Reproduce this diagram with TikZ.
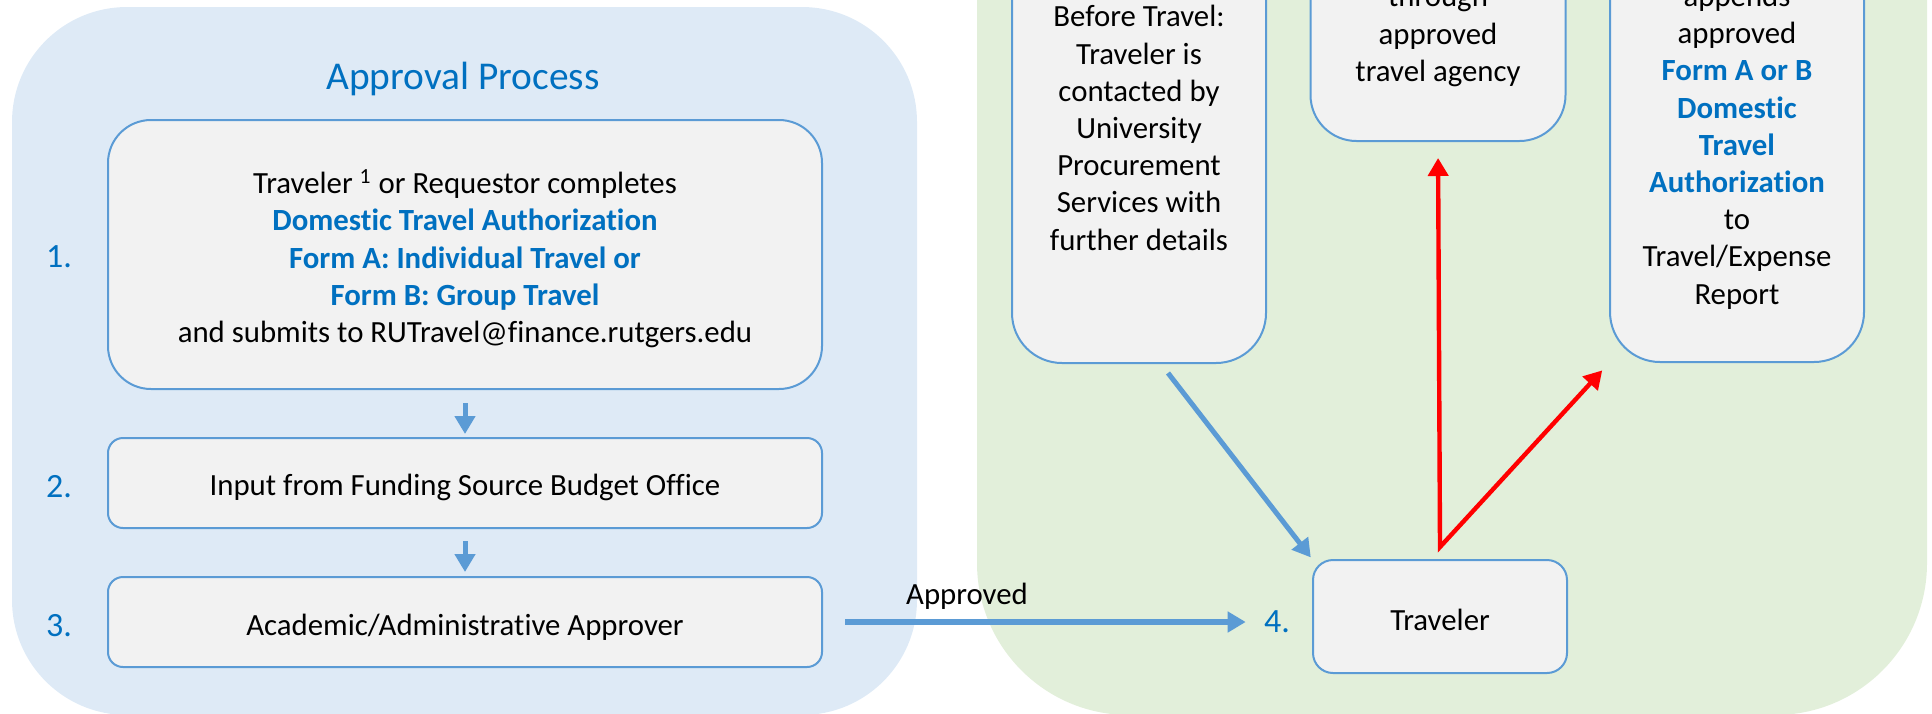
\documentclass[tikz,border=0pt]{standalone}
\usepackage{fontspec}
\setmainfont{Carlito}[Ligatures=NoCommon]
\usetikzlibrary{arrows.meta,calc}
\definecolor{panelblue}{HTML}{DEEAF6}
\definecolor{panelgreen}{HTML}{E2EFDA}
\definecolor{boxfill}{HTML}{F2F2F2}
\definecolor{boxline}{HTML}{5B9BD5}
\definecolor{textblue}{HTML}{0070C0}
\definecolor{arrowred}{HTML}{FF0000}
\tikzset{
  flowbox/.style={draw=boxline, line width=1pt, fill=boxfill, inner sep=0pt},
  txt/.style={font=\fontsize{15.4}{18.6}\selectfont, align=center, inner sep=0pt, text=black},
  numlabel/.style={font=\fontsize{17}{20}\selectfont, text=textblue, inner sep=0pt},
  bluearrow/.style={draw=boxline, line width=2.5pt, -{Triangle[length=9pt,width=10pt]}},
  redarrow/.style={draw=arrowred, line width=2.2pt, {Triangle[length=9pt,width=10pt]}-{Triangle[length=9pt,width=10pt]}, line join=miter}
}
\newcommand{\bb}[1]{\textcolor{textblue}{\bfseries #1}}
\begin{document}
\begin{tikzpicture}[x=0.5pt,y=-0.5pt]
\useasboundingbox (0,0) rectangle (1932,713);
\clip (0,0) rectangle (1932,713);
% panels
\fill[panelblue, rounded corners=57.5pt] (12,7) rectangle (917,715);
\fill[panelgreen, rounded corners=76pt] (977,-400) rectangle (1927,715);

% left panel
\node[font=\fontsize{19.7}{23}\selectfont, text=textblue, inner sep=0pt] (title) at (463,79) {Approval Process};

\node[flowbox, rounded corners=21.5pt, minimum width=357pt, minimum height=134.5pt] (box1) at (465,254.5) {};
\node[txt] (t1) at ($(box1.center)+(0,4)$) {Traveler \textsuperscript{1} or Requestor completes\\
\bb{Domestic Travel Authorization}\\
\bb{Form A: Individual Travel or}\\
\bb{Form B: Group Travel}\\
and submits to RUTravel@finance.rutgers.edu};

\node[flowbox, rounded corners=7.5pt, minimum width=357pt, minimum height=45pt] (box2) at (465,483) {};
\node[txt] (t2) at ($(box2.center)+(0,4)$) {Input from Funding Source Budget Office};

\node[flowbox, rounded corners=7.5pt, minimum width=357pt, minimum height=45pt] (box3) at (465,622) {};
\node[txt] (t3) at ($(box3.center)+(0,5)$) {Academic/Administrative Approver};

\node[numlabel] (n1) at (59,257) {1.};
\node[numlabel] (n2) at (59,487) {2.};
\node[numlabel] (n3) at (59,626) {3.};

\draw[bluearrow, shorten <=6.5pt, shorten >=1.5pt] (box1.south) -- (box2.north);
\draw[bluearrow, shorten <=6pt, shorten >=2pt] (box2.south) -- (box3.north);

% right panel
\node[flowbox, rounded corners=10pt, minimum width=127pt, minimum height=56.5pt] (trav) at (1440,616.5) {};
\node[txt] (ttrav) at ($(trav.center)+(0,3)$) {Traveler};
\node[numlabel] (n4) at (1277,622) {4.};

\node[flowbox, rounded corners=25pt, minimum width=127pt, minimum height=256.5pt] (before) at (1139,106.5) {};
\node[txt] (tbefore) at (1139,128) {Before Travel:\\Traveler is\\contacted by\\University\\Procurement\\Services with\\further details};

\node[flowbox, rounded corners=23pt, minimum width=127.5pt, minimum height=220.5pt] (agency) at (1438,-79.5) {};
\node[txt] (tagency) at (1438,36) {through\\approved\\travel agency};

\node[flowbox, rounded corners=25pt, minimum width=127pt, minimum height=281pt] (appends) at (1737,81) {};
\node[txt] (tappends) at (1737,147) {appends\\approved\\\bb{Form A or B}\\\bb{Domestic}\\\bb{Travel}\\\bb{Authorization}\\to\\Travel/Expense\\Report};

% connectors
\draw[bluearrow, line width=3pt, shorten <=11pt, shorten >=9pt] (box3.east) -- (box3.east -| n4.west);
\node[txt] (approved) at (967,596) {Approved};

\coordinate (dstart) at (1168,373);
\draw[bluearrow, shorten >=1pt] (dstart) -- (trav.north west);

\coordinate (rj) at ($(trav.north)+(0,-12)$);
\draw[redarrow, shorten <=8pt, shorten >=5pt] (agency.south) -- (rj) -- (appends.south west);
\end{tikzpicture}
\end{document}
